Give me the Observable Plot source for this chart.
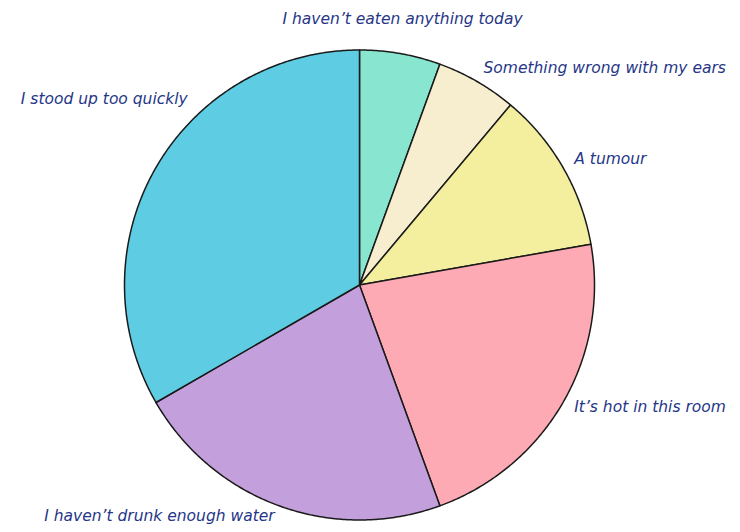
<!DOCTYPE html>
<html>
<head>
<meta charset="utf-8">
<script src="https://cdn.jsdelivr.net/npm/d3@7"></script>
<script src="https://cdn.jsdelivr.net/npm/@observablehq/plot@0.6"></script>
<style>
  html, body { margin: 0; padding: 0; background: #fff; }
  #chart { width: 740px; height: 532px; }
</style>
</head>
<body>
<div id="chart"></div>
<script>
// Data (clockwise from 12 o'clock)
const categories = [
  "I haven’t eaten anything today",
  "Something wrong with my ears",
  "A tumour",
  "It’s hot in this room",
  "I haven’t drunk enough water",
  "I stood up too quickly"
];
const counts = [1, 1, 2, 4, 4, 6];
const colors = ["#87e5d0", "#f7eecf", "#f3ef9e", "#fdaab5", "#c39fdb", "#5ecde3"];

// Layout
const W = 740, H = 532, CX = 359, CY = 284.5, R = 235;
const labelNudge = {"I stood up too quickly": [43, -60]};

const pie = d3.pie().sort(null).value(d => d.value)(
  categories.map((c, i) => ({label: c, value: counts[i]}))
);

// Build slice outlines (unit radius) from the pie angles
const slicePts = [];
pie.forEach((a, i) => {
  const lab = a.data.label;
  slicePts.push({label: lab, x: 0, y: 0});
  const n = Math.max(2, Math.ceil((a.endAngle - a.startAngle) / (Math.PI / 360)));
  for (let k = 0; k <= n; k++) {
    const t = a.startAngle + (a.endAngle - a.startAngle) * k / n;
    slicePts.push({label: lab, x: Math.sin(t), y: Math.cos(t)});
  }
  slicePts.push({label: lab, x: 0, y: 0});
});

// Label anchors
const labelR = (R + 13) / R;
const labels = pie.map(a => {
  const m = (a.startAngle + a.endAngle) / 2;
  const s = Math.sin(m), c = Math.cos(m);
  const nudge = labelNudge[a.data.label] || [0, 0];
  const anchor = s > 0.3 ? "start" : s < -0.3 ? "end" : "middle";
  return {label: a.data.label, x: s * labelR, y: c * labelR, anchor,
          dx: nudge[0], dy: nudge[1] + (anchor === "middle" ? (c > 0 ? -22 : 22) : -2)};
});

const textStyle = {
  fill: "#263687", fontSize: 15.5, fontStyle: "italic",
  fontFamily: "'DejaVu Sans', sans-serif", stroke: null
};

const textMark = (anch) => Plot.text(labels.filter(d => d.anchor === anch), {
  x: "x", y: "y", text: "label", textAnchor: anch, ...textStyle,
  render(index, scales, values, dims, context, next) {
    const g = next(index, scales, values, dims, context);
    const data = labels.filter(d => d.anchor === anch);
    d3.select(g).selectAll("text").each(function(_, j) {
      const d = data[index[j]];
      const tr = this.getAttribute("transform") || "";
      this.setAttribute("transform", tr + ` translate(${d.dx},${d.dy})`);
    });
    return g;
  }
});

const chart = Plot.plot({
  width: W, height: H,
  marginTop: 0, marginBottom: 0, marginLeft: 0, marginRight: 0,
  x: {domain: [-CX / R, (W - CX) / R], axis: null},
  y: {domain: [-(H - CY) / R, CY / R], axis: null},
  color: {domain: categories, range: colors},
  style: {background: "#fff"},
  marks: [
    Plot.line(slicePts, {
      x: "x", y: "y", z: "label", fill: "label",
      stroke: "#1a1a1a", strokeWidth: 1.5, strokeLinejoin: "round", curve: "linear"
    }),
    textMark("start"),
    textMark("end"),
    textMark("middle")
  ]
});
document.getElementById("chart").appendChild(chart);
</script>
</body>
</html>
